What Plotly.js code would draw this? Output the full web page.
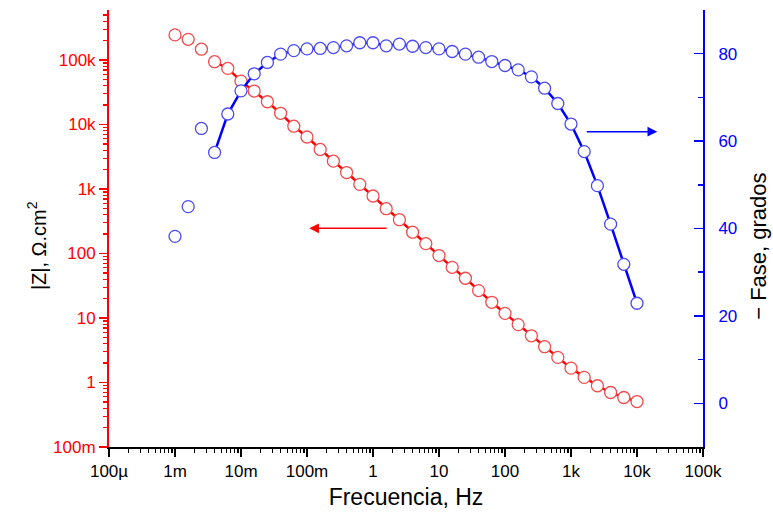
<!DOCTYPE html>
<html>
<head>
<meta charset="utf-8">
<script src="https://cdn.plot.ly/plotly-3.0.1.min.js"></script>
<style>html,body{margin:0;padding:0;background:#fff;}#chart{width:773px;height:515px;}</style>
</head>
<body>
<div id="chart"></div>
<script>
// Frequencies (Hz), 5 points per decade from 1 mHz to 10 kHz
var frecuencia = [0.001,0.001585,0.002512,0.003981,0.00631,0.01,0.01585,0.02512,0.03981,0.0631,
  0.1,0.1585,0.2512,0.3981,0.631,1,1.585,2.512,3.981,6.31,
  10,15.85,25.12,39.81,63.1,100,158.5,251.2,398.1,631,
  1000,1585,2512,3981,6310,10000];
// |Z| (ohm.cm2)
var modZ = [245000,209000,147000,94000,74000,47000,33000,22500,14900,9400,
  6400,4100,2700,1800,1180,778,495,334,214,142,
  93,61,41.3,26.6,17.5,11.8,7.9,5.3,3.59,2.45,
  1.67,1.20,0.89,0.70,0.585,0.507];
// -Phase (degrees)
var fase = [38.2,45.0,62.9,57.4,66.2,71.5,75.4,78.0,79.9,80.7,
  81.1,81.2,81.4,81.8,82.5,82.5,81.8,82.2,81.7,81.4,
  81.1,80.5,79.9,79.2,78.2,77.3,76.3,74.7,72.1,68.6,
  63.9,57.6,49.8,41.0,31.8,22.9];
// index where the fitted lines begin
var inicioAjuste = 3;

var xTickVals = [1e-4,1e-3,1e-2,1e-1,1,10,100,1e3,1e4,1e5];
var xTickText = ['100\u00b5','1m','10m','100m','1','10','100','1k','10k','100k'];
var yTickVals = [0.1,1,10,100,1e3,1e4,1e5];
var yTickText = ['100m','1','10','100','1k','10k','100k'];

var RED = '#ff0000', BLUE = '#0000ff';
var font = 'Liberation Sans, Arial, sans-serif';

var traces = [
  {x: frecuencia.slice(inicioAjuste), y: modZ.slice(inicioAjuste), xaxis:'x', yaxis:'y',
   mode:'lines', line:{color:RED, width:2.5}, hoverinfo:'skip', showlegend:false},
  {x: frecuencia, y: modZ, xaxis:'x', yaxis:'y', mode:'markers',
   marker:{symbol:'circle', size:12, color:'#ffffff', line:{color:'rgb(242,75,75)', width:1.3}}, showlegend:false},
  {x: frecuencia.slice(inicioAjuste), y: fase.slice(inicioAjuste), xaxis:'x', yaxis:'y2',
   mode:'lines', line:{color:BLUE, width:2.5}, hoverinfo:'skip', showlegend:false},
  {x: frecuencia, y: fase, xaxis:'x', yaxis:'y2', mode:'markers',
   marker:{symbol:'circle', size:12, color:'#ffffff', line:{color:'rgb(75,75,242)', width:1.3}}, showlegend:false}
];

var layout = {
  width:773, height:515,
  margin:{l:109, r:70, t:10, b:68},
  paper_bgcolor:'#fff', plot_bgcolor:'#fff',
  font:{family:font, size:17, color:'#000'},
  showlegend:false,
  xaxis:{type:'log', range:[-4,5], tickmode:'array', tickvals:xTickVals, ticktext:xTickText,
    ticks:'outside', ticklen:8, tickwidth:1.5, tickcolor:'#000',
    showline:true, linecolor:'#000', linewidth:1.5, showgrid:false, zeroline:false,
    tickfont:{family:font, size:17, color:'#000'},
    minor:{dtick:'D1', ticks:'outside', ticklen:4, tickwidth:1.2, tickcolor:'#000', showgrid:false},
    title:{text:'Frecuencia, Hz', font:{family:font, size:23, color:'#000'}, standoff:9}},
  xaxis2:{type:'log', range:[-4,5], overlaying:'x', side:'top', tickmode:'array', tickvals:xTickVals,
    showticklabels:false, ticks:'inside', ticklen:8, tickwidth:1.5, tickcolor:'#000',
    showline:true, linecolor:'#000', linewidth:1.5, showgrid:false, zeroline:false,
    minor:{dtick:'D1', ticks:'inside', ticklen:4, tickwidth:1.2, tickcolor:'#000', showgrid:false}},
  yaxis:{type:'log', range:[-1, 5.775], tickmode:'array', tickvals:yTickVals, ticktext:yTickText,
    ticks:'outside', ticklen:8, tickwidth:1.5, tickcolor:RED,
    showline:true, linecolor:RED, linewidth:2, showgrid:false, zeroline:false,
    tickfont:{family:font, size:17, color:RED},
    minor:{dtick:'D1', ticks:'outside', ticklen:4, tickwidth:1.2, tickcolor:RED, showgrid:false}},
  yaxis2:{overlaying:'y', side:'right', range:[-10,90], tickmode:'linear', tick0:0, dtick:20,
    ticks:'inside', ticklen:9, tickwidth:1.5, tickcolor:BLUE,
    showline:true, linecolor:BLUE, linewidth:2, showgrid:false, zeroline:false,
    tickfont:{family:font, size:17, color:BLUE}, ticklabelstandoff:10,
    minor:{tick0:0, dtick:10, ticks:'inside', ticklen:5, tickwidth:1.5, tickcolor:BLUE, showgrid:false}},
  annotations:[
    {xref:'paper', yref:'paper', x:-0.121, y:0.46, xanchor:'center', yanchor:'middle', textangle:-90,
     text:'|Z|, \u03a9.cm<sup>2</sup>', showarrow:false, font:{family:font, size:20, color:'#000'}},
    {xref:'paper', yref:'paper', x:1.094, y:0.46, xanchor:'center', yanchor:'middle', textangle:-90,
     text:'\u2212 Fase, grados', showarrow:false, font:{family:font, size:22, color:'#000'}},
    {xref:'paper', yref:'paper', x:0.337, y:0.5005, ax:79, ay:0, axref:'pixel', ayref:'pixel',
     text:'', showarrow:true, arrowhead:2, arrowsize:1.3, arrowwidth:1.5, arrowcolor:RED},
    {xref:'paper', yref:'paper', x:0.923, y:0.7215, ax:-72, ay:0, axref:'pixel', ayref:'pixel',
     text:'', showarrow:true, arrowhead:2, arrowsize:1.3, arrowwidth:1.5, arrowcolor:BLUE}
  ]
};

Plotly.newPlot('chart', traces, layout, {displayModeBar:false, staticPlot:true});
</script>
</body>
</html>
